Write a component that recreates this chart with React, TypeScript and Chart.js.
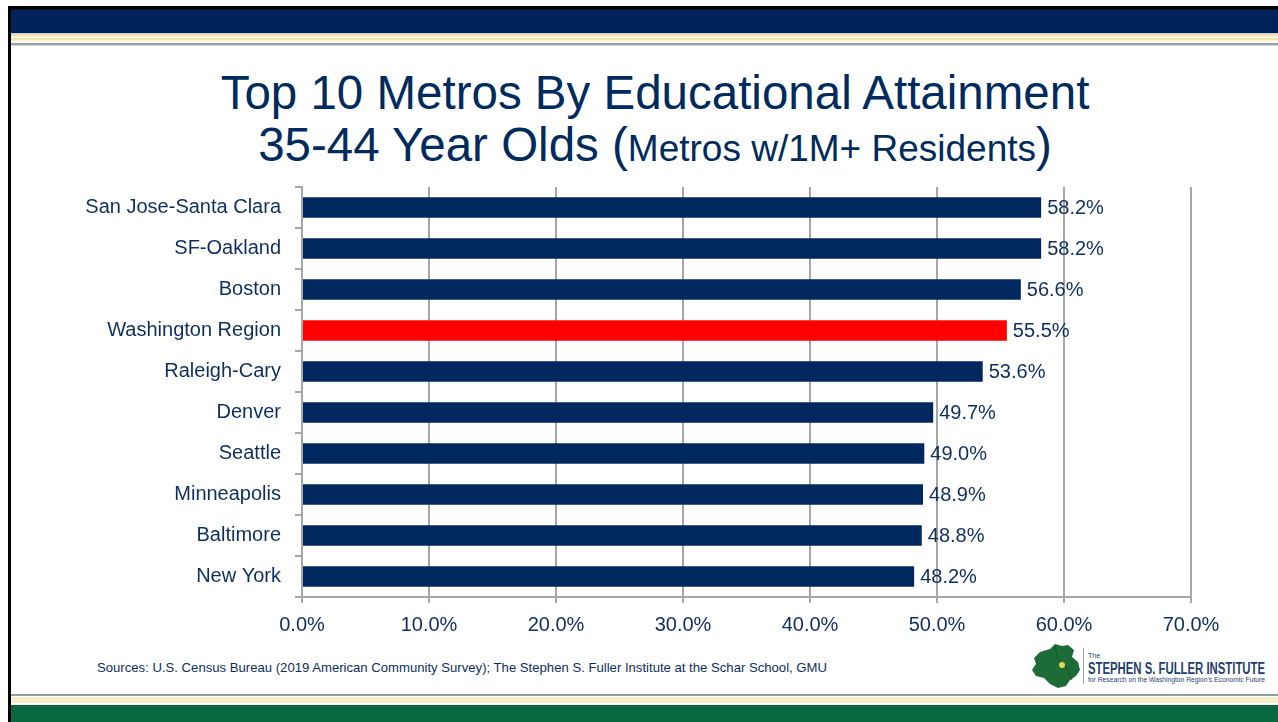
import React, { useEffect, useRef } from "react";
import { Chart, registerables } from "chart.js";

Chart.register(...registerables);

const categories = [
  "San Jose-Santa Clara",
  "SF-Oakland",
  "Boston",
  "Washington Region",
  "Raleigh-Cary",
  "Denver",
  "Seattle",
  "Minneapolis",
  "Baltimore",
  "New York",
];
const values = [58.2, 58.2, 56.6, 55.5, 53.6, 49.7, 49.0, 48.9, 48.8, 48.2];
const highlightCategory = "Washington Region";
const xTickValues = [0, 10, 20, 30, 40, 50, 60, 70];

const NAVY_BAR = "#00285e";
const RED_BAR = "#ff0000";
const TEXT_NAVY = "#0e2f5e";
const GRID = "#a6a6a6";
const FONT = '"Liberation Sans", Arial, sans-serif';

const valueLabels = {
  id: "valueLabels",
  afterDatasetsDraw(chart: any) {
    const ctx = chart.ctx;
    const meta = chart.getDatasetMeta(0);
    ctx.save();
    ctx.font = `20px ${FONT}`;
    ctx.fillStyle = TEXT_NAVY;
    ctx.textAlign = "left";
    ctx.textBaseline = "middle";
    meta.data.forEach((bar: any, i: number) => {
      ctx.fillText(values[i].toFixed(1) + "%", bar.x + 6, bar.y + 1);
    });
    ctx.restore();
  },
};

function BarChart() {
  const ref = useRef<HTMLCanvasElement>(null);
  useEffect(() => {
    if (!ref.current) return;
    const chart = new Chart(ref.current, {
      type: "bar",
      data: {
        labels: categories,
        datasets: [
          {
            data: values,
            backgroundColor: categories.map((c) => (c === highlightCategory ? RED_BAR : NAVY_BAR)),
            borderWidth: 0,
            categoryPercentage: 1,
            barPercentage: 0.5,
          },
        ],
      },
      options: {
        indexAxis: "y",
        responsive: false,
        animation: false,
        devicePixelRatio: 1,
        layout: { padding: { top: 37, right: 87, left: 0, bottom: 0 } },
        plugins: {
          legend: { display: false },
          tooltip: { enabled: false },
          title: { display: false },
        },
        scales: {
          x: {
            type: "linear",
            min: xTickValues[0],
            max: xTickValues[xTickValues.length - 1],
            z: 1,
            afterFit: (s: any) => {
              s.height = 53;
            },
            afterBuildTicks: (s: any) => {
              s.ticks = xTickValues.map((v) => ({ value: v }));
            },
            ticks: {
              stepSize: 10,
              padding: 10,
              color: TEXT_NAVY,
              font: { family: FONT, size: 20 },
              callback: (v: any) => Number(v).toFixed(1) + "%",
            },
            grid: {
              color: GRID,
              lineWidth: 2,
              drawTicks: true,
              tickLength: 6,
            },
            border: { display: true, color: GRID, width: 2 },
          },
          y: {
            afterFit: (s: any) => {
              s.width = 302;
            },
            ticks: {
              padding: 14,
              color: TEXT_NAVY,
              font: { family: FONT, size: 20 },
            },
            grid: {
              drawOnChartArea: false,
              drawTicks: true,
              tickLength: 7,
              color: GRID,
              lineWidth: 2,
              offset: true,
            },
            border: { display: true, color: GRID, width: 2 },
          },
        },
      },
      plugins: [valueLabels],
    } as any);
    return () => chart.destroy();
  }, []);
  return (
    <canvas
      ref={ref}
      width={1278}
      height={500}
      style={{ position: "absolute", left: 0, top: 150, width: 1278, height: 500, display: "block" }}
    />
  );
}

export default function App() {
  return (
    <div
      style={{
        position: "absolute",
        left: 0,
        top: 0,
        width: 1278,
        height: 722,
        overflow: "hidden",
        background: "#ffffff",
        fontFamily: FONT,
      }}
    >
      <svg width={1278} height={722} style={{ position: "absolute", left: 0, top: 0 }}>
        {/* frame */}
        <rect x={8} y={6} width={1270} height={4} fill="#000000" />
        <rect x={8} y={6} width={3} height={716} fill="#000000" />
        <rect x={11} y={9.5} width={1267} height={23.5} fill="#00245a" />
        <rect x={11} y={33} width={1267} height={1} fill="#c9d0da" />
        <rect x={11} y={34} width={1267} height={2.5} fill="#f2e6b0" />
        <rect x={11} y={38} width={1267} height={2.5} fill="#f2e6b0" />
        <rect x={11} y={43} width={1267} height={2.5} fill="#9aa5ab" />
        <rect x={11} y={694} width={1267} height={2} fill="#8fa3a3" />
        <rect x={11} y={697.5} width={1267} height={2} fill="#f2e6b0" />
        <rect x={11} y={700.5} width={1267} height={2} fill="#f2e6b0" />
        <rect x={11} y={705} width={1267} height={17} fill="#07683f" />
        {/* sources */}
        <text
          x={97}
          y={672}
          fontSize={13}
          fill={TEXT_NAVY}
          fontFamily={FONT}
          textLength={730}
          lengthAdjust="spacingAndGlyphs"
        >
          Sources: U.S. Census Bureau (2019 American Community Survey); The Stephen S. Fuller Institute at the Schar School, GMU
        </text>
        {/* logo */}
        <polygon
          points="1040,652 1050,649 1055,644 1062,646 1068,645 1074,650 1072,657 1078,662 1080,670 1076,676 1070,680 1066,686 1058,688 1050,684 1044,678 1036,676 1032,670 1036,664 1034,658"
          fill="#1d6b37"
        />
        <polyline points="1055,646 1058,660 1066,666 1072,680" fill="none" stroke="#145528" strokeWidth={1} />
        <circle cx={1062} cy={665} r={3} fill="#e8d44a" />
        <rect x={1083} y={648} width={1} height={36} fill="#9aa5ab" />
        <text x={1088} y={658} fontSize={7} fill="#1f3f6e" fontFamily={FONT}>
          The
        </text>
        <text
          x={1088}
          y={674}
          fontSize={16}
          fontWeight="bold"
          fill="#1f3f6e"
          fontFamily={FONT}
          textLength={177}
          lengthAdjust="spacingAndGlyphs"
        >
          STEPHEN S. FULLER INSTITUTE
        </text>
        <text
          x={1088}
          y={682}
          fontSize={7}
          fill="#1f3f6e"
          fontFamily={FONT}
          textLength={177}
          lengthAdjust="spacingAndGlyphs"
        >
          for Research on the Washington Region's Economic Future
        </text>
      </svg>
      <div
        style={{
          position: "absolute",
          left: 30,
          top: 67,
          width: 1250,
          textAlign: "center",
          color: "#002b5c",
          fontSize: 47.5,
          lineHeight: "52px",
          whiteSpace: "nowrap",
        }}
      >
        <div>Top 10 Metros By Educational Attainment</div>
        <div>
          35-44 Year Olds (<span style={{ fontSize: 37 }}>Metros w/1M+ Residents</span>)
        </div>
      </div>
      <BarChart />
    </div>
  );
}
